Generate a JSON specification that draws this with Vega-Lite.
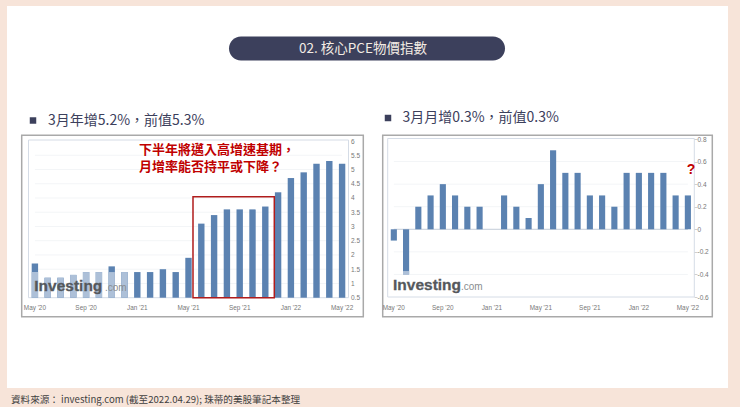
{
  "$schema": "https://vega.github.io/schema/vega-lite/v6.json",
  "width": 740,
  "height": 407,
  "autosize": {"type": "fit", "contains": "padding"},
  "padding": 0,
  "background": "#f7e4d9",
  "config": {"view": {"stroke": null}, "text": {"font": "Noto Sans CJK TC"}},
  "datasets": {
    "yoy": [
      {"month": "May '20", "rate": 1.7, "faded": 1.4},
      {"month": "Jun '20", "rate": 1.2, "faded": 1.2},
      {"month": "Jul '20", "rate": 1.2, "faded": 1.2},
      {"month": "Aug '20", "rate": 1.3, "faded": 1.3},
      {"month": "Sep '20", "rate": 1.4, "faded": 1.4},
      {"month": "Oct '20", "rate": 1.4, "faded": 1.4},
      {"month": "Nov '20", "rate": 1.6, "faded": 1.4},
      {"month": "Dec '20", "rate": 1.4, "faded": 1.4},
      {"month": "Jan '21", "rate": 1.4},
      {"month": "Feb '21", "rate": 1.4},
      {"month": "Mar '21", "rate": 1.5},
      {"month": "Apr '21", "rate": 1.4},
      {"month": "May '21", "rate": 1.9},
      {"month": "Jun '21", "rate": 3.1},
      {"month": "Jul '21", "rate": 3.4},
      {"month": "Aug '21", "rate": 3.6},
      {"month": "Sep '21", "rate": 3.6},
      {"month": "Oct '21", "rate": 3.6},
      {"month": "Nov '21", "rate": 3.7},
      {"month": "Dec '21", "rate": 4.2},
      {"month": "Jan '22", "rate": 4.7},
      {"month": "Feb '22", "rate": 4.9},
      {"month": "Mar '22", "rate": 5.2},
      {"month": "Apr '22", "rate": 5.3},
      {"month": "May '22", "rate": 5.2}
    ],
    "mom": [
      {"month": "May '20", "rate": -0.1},
      {"month": "Jun '20", "rate": -0.4, "faded": -0.4, "fadedTop": -0.37},
      {"month": "Jul '20", "rate": 0.2},
      {"month": "Aug '20", "rate": 0.3},
      {"month": "Sep '20", "rate": 0.4},
      {"month": "Oct '20", "rate": 0.3},
      {"month": "Nov '20", "rate": 0.2},
      {"month": "Dec '20", "rate": 0.2},
      {"month": "Jan '21", "rate": 0},
      {"month": "Feb '21", "rate": 0.3},
      {"month": "Mar '21", "rate": 0.2},
      {"month": "Apr '21", "rate": 0.1},
      {"month": "May '21", "rate": 0.4},
      {"month": "Jun '21", "rate": 0.7},
      {"month": "Jul '21", "rate": 0.5},
      {"month": "Aug '21", "rate": 0.5},
      {"month": "Sep '21", "rate": 0.3},
      {"month": "Oct '21", "rate": 0.3},
      {"month": "Nov '21", "rate": 0.2},
      {"month": "Dec '21", "rate": 0.5},
      {"month": "Jan '22", "rate": 0.5},
      {"month": "Feb '22", "rate": 0.5},
      {"month": "Mar '22", "rate": 0.5},
      {"month": "Apr '22", "rate": 0.3},
      {"month": "May '22", "rate": 0.3}
    ]
  },
  "resolve": {"scale": {"x": "independent", "y": "independent"}},
  "layer": [
    {
      "data": {"values": [{"part": "card"}]},
      "mark": {"type": "bar", "color": "#ffffff"},
      "encoding": {
        "x": {"field": "part", "type": "nominal", "axis": null, "scale": {"range": [7, 728], "padding": 0}},
        "y": {"field": "part", "type": "nominal", "axis": null, "scale": {"range": [6, 388], "padding": 0}}
      }
    },
    {
      "data": {"values": [{"part": "pill"}]},
      "mark": {"type": "bar", "color": "#3c405c", "cornerRadius": 12},
      "encoding": {
        "x": {"field": "part", "type": "nominal", "axis": null, "scale": {"range": [229, 505], "padding": 0}},
        "y": {"field": "part", "type": "nominal", "axis": null, "scale": {"range": [36.5, 60.5], "padding": 0}}
      }
    },
    {
      "data": {"values": [{"label": "02. 核心PCE物價指數"}]},
      "mark": {"type": "text", "color": "#f3ece4", "fontSize": 13.5, "align": "center", "baseline": "middle"},
      "encoding": {
        "text": {"field": "label"},
        "x": {"field": "label", "type": "nominal", "axis": null, "scale": {"range": [363, 363]}},
        "y": {"field": "label", "type": "nominal", "axis": null, "scale": {"range": [49, 49]}}
      }
    },
    {
      "data": {"values": [{"panel": "yoy"}]},
      "mark": {"type": "square", "color": "#3c405c", "size": 42, "opacity": 1},
      "encoding": {
        "x": {"field": "panel", "type": "nominal", "axis": null, "scale": {"range": [33, 33]}},
        "y": {"field": "panel", "type": "nominal", "axis": null, "scale": {"range": [120.5, 120.5]}}
      }
    },
    {
      "data": {"values": [{"label": "3月年增5.2%\uff0c前值5.3%"}]},
      "mark": {"type": "text", "color": "#3c405c", "fontSize": 14, "align": "left", "baseline": "middle"},
      "encoding": {
        "text": {"field": "label"},
        "x": {"field": "label", "type": "nominal", "axis": null, "scale": {"range": [48, 48]}},
        "y": {"field": "label", "type": "nominal", "axis": null, "scale": {"range": [120.5, 120.5]}}
      }
    },
    {
      "data": {"values": [{"panel": "mom"}]},
      "mark": {"type": "square", "color": "#3c405c", "size": 42, "opacity": 1},
      "encoding": {
        "x": {"field": "panel", "type": "nominal", "axis": null, "scale": {"range": [388, 388]}},
        "y": {"field": "panel", "type": "nominal", "axis": null, "scale": {"range": [118, 118]}}
      }
    },
    {
      "data": {"values": [{"label": "3月月增0.3%\uff0c前值0.3%"}]},
      "mark": {"type": "text", "color": "#3c405c", "fontSize": 14, "align": "left", "baseline": "middle"},
      "encoding": {
        "text": {"field": "label"},
        "x": {"field": "label", "type": "nominal", "axis": null, "scale": {"range": [402.5, 402.5]}},
        "y": {"field": "label", "type": "nominal", "axis": null, "scale": {"range": [118, 118]}}
      }
    },
    {
      "data": {"values": [{"panel": "yoy"}]},
      "mark": {"type": "bar", "filled": false, "color": "#a9a9a9", "strokeWidth": 1.5},
      "encoding": {
        "x": {"field": "panel", "type": "nominal", "axis": null, "scale": {"range": [21.7, 363.3], "padding": 0}},
        "y": {"field": "panel", "type": "nominal", "axis": null, "scale": {"range": [135.3, 316.7], "padding": 0}}
      }
    },
    {
      "data": {"values": [{"panel": "mom"}]},
      "mark": {"type": "bar", "filled": false, "color": "#a9a9a9", "strokeWidth": 1.5},
      "encoding": {
        "x": {"field": "panel", "type": "nominal", "axis": null, "scale": {"range": [382.7, 712.3], "padding": 0}},
        "y": {"field": "panel", "type": "nominal", "axis": null, "scale": {"range": [135.3, 316.7], "padding": 0}}
      }
    },
    {
      "data": {"values": [{"panel": "yoy"}]},
      "mark": {"type": "bar", "filled": false, "color": "#d5dce6", "strokeWidth": 1},
      "encoding": {
        "x": {"field": "panel", "type": "nominal", "axis": null, "scale": {"range": [28.5, 348.5], "padding": 0}},
        "y": {"field": "panel", "type": "nominal", "axis": null, "scale": {"range": [140, 297.7], "padding": 0}}
      }
    },
    {
      "data": {"values": [{"panel": "mom"}]},
      "mark": {"type": "bar", "filled": false, "color": "#d5dce6", "strokeWidth": 1},
      "encoding": {
        "x": {"field": "panel", "type": "nominal", "axis": null, "scale": {"range": [387.7, 694.3], "padding": 0}},
        "y": {"field": "panel", "type": "nominal", "axis": null, "scale": {"range": [138.5, 297], "padding": 0}}
      }
    },
    {
      "layer": [
        {
          "data": {"values": [{"tick": 1}, {"tick": 1.5}, {"tick": 2}, {"tick": 2.5}, {"tick": 3}, {"tick": 3.5}, {"tick": 4}, {"tick": 4.5}, {"tick": 5}, {"tick": 5.5}]},
          "mark": {"type": "rule", "color": "#f3f5f7", "strokeWidth": 1},
          "encoding": {
            "x": {
              "datum": "May '20",
              "type": "nominal",
              "scale": {
                "domain": ["May '20", "Jun '20", "Jul '20", "Aug '20", "Sep '20", "Oct '20", "Nov '20", "Dec '20", "Jan '21", "Feb '21", "Mar '21", "Apr '21", "May '21", "Jun '21", "Jul '21", "Aug '21", "Sep '21", "Oct '21", "Nov '21", "Dec '21", "Jan '22", "Feb '22", "Mar '22", "Apr '22", "May '22"],
                "range": [28.5, 348.5],
                "paddingInner": 0.5,
                "paddingOuter": 0.25
              },
              "axis": {
                "title": null,
                "orient": "bottom",
                "offset": -109.5,
                "zindex": 1,
                "values": ["May '20", "Sep '20", "Jan '21", "May '21", "Sep '21", "Jan '22", "May '22"],
                "labelAngle": 0,
                "labelAlign": "center",
                "labelBaseline": "middle",
                "labelOverlap": false,
                "labelBound": false,
                "labelFontSize": 6.4,
                "labelColor": "#777777",
                "labelFont": "Liberation Sans",
                "labelPadding": 10,
                "domain": false,
                "ticks": false,
                "grid": false
              }
            },
            "x2": {"datum": "May '22"},
            "y": {
              "field": "tick",
              "type": "quantitative",
              "scale": {"domain": [0.5, 6], "range": [297.7, 141], "zero": false, "clamp": true},
              "axis": {
                "title": null,
                "orient": "right",
                "offset": -391.5,
                "zindex": 1,
                "values": [0.5, 1, 1.5, 2, 2.5, 3, 3.5, 4, 4.5, 5, 5.5, 6],
                "tickCount": 12,
                "format": "~g",
                "labelAlign": "left",
                "labelBaseline": "middle",
                "labelOverlap": false,
                "labelBound": false,
                "labelFontSize": 6.5,
                "labelColor": "#777777",
                "labelFont": "Liberation Sans",
                "labelPadding": 2,
                "domain": false,
                "ticks": false,
                "grid": false
              }
            }
          }
        },
        {
          "data": {"name": "yoy"},
          "mark": {"type": "bar", "color": "#5b82b1"},
          "encoding": {
            "x": {"field": "month", "type": "nominal"},
            "y": {"field": "rate", "type": "quantitative", "scale": {"domain": [0.5, 6], "range": [297.7, 141], "zero": false, "clamp": true}}
          }
        },
        {
          "data": {"name": "yoy"},
          "transform": [{"filter": "isValid(datum.faded)"}],
          "mark": {"type": "bar", "color": "#adc0d8"},
          "encoding": {
            "x": {"field": "month", "type": "nominal"},
            "y": {"field": "faded", "type": "quantitative", "scale": {"domain": [0.5, 6], "range": [297.7, 141], "zero": false, "clamp": true}}
          }
        }
      ]
    },
    {
      "layer": [
        {
          "data": {"values": [{"tick": 0.2}, {"tick": 0.4}, {"tick": 0.6}, {"tick": -0.2}, {"tick": -0.4}]},
          "mark": {"type": "rule", "color": "#f3f5f7", "strokeWidth": 1},
          "encoding": {
            "x": {"datum": "May '20", "type": "nominal"},
            "x2": {"datum": "May '22"},
            "y": {"field": "tick", "type": "quantitative"}
          }
        },
        {
          "data": {"values": [{"tick": 0}]},
          "mark": {"type": "rule", "color": "#c3ccd8", "strokeWidth": 1},
          "encoding": {
            "x": {"datum": "May '20", "type": "nominal"},
            "x2": {"datum": "May '22"},
            "y": {"field": "tick", "type": "quantitative"}
          }
        },
        {
          "data": {"name": "mom"},
          "mark": {"type": "bar", "color": "#5b82b1"},
          "encoding": {
            "x": {
              "field": "month",
              "type": "nominal",
              "scale": {
                "domain": ["May '20", "Jun '20", "Jul '20", "Aug '20", "Sep '20", "Oct '20", "Nov '20", "Dec '20", "Jan '21", "Feb '21", "Mar '21", "Apr '21", "May '21", "Jun '21", "Jul '21", "Aug '21", "Sep '21", "Oct '21", "Nov '21", "Dec '21", "Jan '22", "Feb '22", "Mar '22", "Apr '22", "May '22"],
                "range": [387.7, 694],
                "paddingInner": 0.5,
                "paddingOuter": 0.25
              },
              "axis": {
                "title": null,
                "orient": "bottom",
                "offset": -110,
                "zindex": 1,
                "values": ["May '20", "Sep '20", "Jan '21", "May '21", "Sep '21", "Jan '22", "May '22"],
                "labelAngle": 0,
                "labelAlign": "center",
                "labelBaseline": "middle",
                "labelOverlap": false,
                "labelBound": false,
                "labelFontSize": 6.4,
                "labelColor": "#777777",
                "labelFont": "Liberation Sans",
                "labelPadding": 10.5,
                "domain": false,
                "ticks": false,
                "grid": false
              }
            },
            "y": {
              "field": "rate",
              "type": "quantitative",
              "scale": {"domain": [-0.6, 0.8], "range": [297, 139]},
              "axis": {
                "title": null,
                "orient": "right",
                "offset": -46,
                "zindex": 1,
                "values": [-0.6, -0.4, -0.2, 0, 0.2, 0.4, 0.6, 0.8],
                "labelExpr": "'' + datum.value",
                "labelAlign": "left",
                "labelBaseline": "middle",
                "labelOverlap": false,
                "labelBound": false,
                "labelFontSize": 6.5,
                "labelColor": "#777777",
                "labelFont": "Liberation Sans",
                "labelPadding": 0,
                "domain": false,
                "ticks": true,
                "tickSize": 3,
                "tickColor": "#d0d0d0",
                "grid": false
              }
            }
          }
        },
        {
          "data": {"name": "mom"},
          "transform": [{"filter": "isValid(datum.faded)"}],
          "mark": {"type": "bar", "color": "#adc0d8"},
          "encoding": {
            "x": {"field": "month", "type": "nominal"},
            "y": {"field": "faded", "type": "quantitative"},
            "y2": {"field": "fadedTop"}
          }
        }
      ]
    },
    {
      "data": {"values": [{"part": "highlight"}]},
      "mark": {"type": "bar", "filled": false, "color": "#b01c1c", "strokeWidth": 1.5},
      "encoding": {
        "x": {"field": "part", "type": "nominal", "axis": null, "scale": {"range": [193, 274.3], "padding": 0}},
        "y": {"field": "part", "type": "nominal", "axis": null, "scale": {"range": [196.7, 297.7], "padding": 0}}
      }
    },
    {
      "data": {"values": [{"block": "note", "label": "下半年將邁入高增速基期\uff0c"}, {"block": "note", "label": "月增率能否持平或下降\uff1f"}]},
      "mark": {"type": "text", "color": "#c00000", "fontSize": 13, "fontWeight": "bold", "align": "left", "baseline": "middle"},
      "encoding": {
        "text": {"field": "label"},
        "x": {"field": "block", "type": "nominal", "axis": null, "scale": {"range": [139, 139]}},
        "y": {"field": "label", "type": "nominal", "sort": null, "axis": null, "scale": {"range": [150, 167], "padding": 0}}
      }
    },
    {
      "data": {"values": [{"label": "?"}]},
      "mark": {"type": "text", "color": "#c00000", "fontSize": 14, "fontWeight": "bold", "align": "center", "baseline": "middle", "font": "Liberation Sans"},
      "encoding": {
        "text": {"field": "label"},
        "x": {"field": "label", "type": "nominal", "axis": null, "scale": {"range": [691, 691]}},
        "y": {"field": "label", "type": "nominal", "axis": null, "scale": {"range": [170, 170]}}
      }
    },
    {
      "data": {"values": [{"label": "Investing"}]},
      "mark": {"type": "text", "color": "#55585c", "fontSize": 15.5, "fontWeight": "bold", "align": "left", "baseline": "alphabetic", "font": "Liberation Sans", "stroke": "#55585c", "strokeWidth": 0.3},
      "encoding": {
        "text": {"field": "label"},
        "x": {"field": "label", "type": "nominal", "axis": null, "scale": {"range": [34.3, 34.3]}},
        "y": {"field": "label", "type": "nominal", "axis": null, "scale": {"range": [291, 291]}}
      }
    },
    {
      "data": {"values": [{"label": ".com"}]},
      "mark": {"type": "text", "color": "#8a8d90", "fontSize": 10, "align": "left", "baseline": "alphabetic", "font": "Liberation Sans"},
      "encoding": {
        "text": {"field": "label"},
        "x": {"field": "label", "type": "nominal", "axis": null, "scale": {"range": [105, 105]}},
        "y": {"field": "label", "type": "nominal", "axis": null, "scale": {"range": [291, 291]}}
      }
    },
    {
      "data": {"values": [{"label": "Investing"}]},
      "mark": {"type": "text", "color": "#55585c", "fontSize": 15.5, "fontWeight": "bold", "align": "left", "baseline": "alphabetic", "font": "Liberation Sans", "stroke": "#55585c", "strokeWidth": 0.3},
      "encoding": {
        "text": {"field": "label"},
        "x": {"field": "label", "type": "nominal", "axis": null, "scale": {"range": [393, 393]}},
        "y": {"field": "label", "type": "nominal", "axis": null, "scale": {"range": [290, 290]}}
      }
    },
    {
      "data": {"values": [{"label": ".com"}]},
      "mark": {"type": "text", "color": "#8a8d90", "fontSize": 10, "align": "left", "baseline": "alphabetic", "font": "Liberation Sans"},
      "encoding": {
        "text": {"field": "label"},
        "x": {"field": "label", "type": "nominal", "axis": null, "scale": {"range": [461, 461]}},
        "y": {"field": "label", "type": "nominal", "axis": null, "scale": {"range": [290, 290]}}
      }
    },
    {
      "data": {"values": [{"label": "資料來源\uff1a investing.com (截至2022.04.29); 珠蒂的美股筆記本整理"}]},
      "mark": {"type": "text", "color": "#3f3f3f", "fontSize": 9.6, "align": "left", "baseline": "middle"},
      "encoding": {
        "text": {"field": "label"},
        "x": {"field": "label", "type": "nominal", "axis": null, "scale": {"range": [11, 11]}},
        "y": {"field": "label", "type": "nominal", "axis": null, "scale": {"range": [399.5, 399.5]}}
      }
    }
  ]
}
